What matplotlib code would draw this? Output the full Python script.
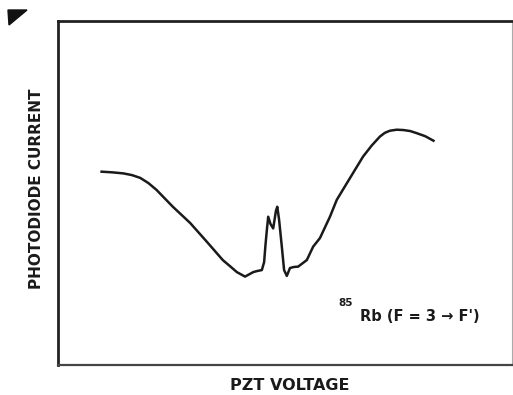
import matplotlib

matplotlib.use("Agg")
import matplotlib.pyplot as plt
from matplotlib.patches import Polygon

# PZT voltage (arb. units) vs photodiode current (arb. units)
pzt = [9.6, 12.0, 14.4, 16.3, 18.1, 19.9, 21.7, 25.3, 29.1, 32.8, 36.3, 38.0, 39.4, 41.2,
       43.0, 43.8, 44.9, 45.4, 45.7, 46.0, 46.3, 46.8, 47.4, 48.0, 48.3, 48.7, 49.3, 49.8,
       50.4, 51.1, 52.0, 52.9, 54.8, 56.2, 57.7, 59.9, 61.4, 63.6, 67.2, 69.1, 70.9, 72.0,
       73.1, 74.6, 76.1, 77.6, 79.0, 80.9, 82.7]
current = [56.2, 56.0, 55.7, 55.2, 54.4, 52.9, 50.9, 46.0, 41.3, 35.8, 30.5, 28.6, 27.0,
           25.7, 27.0, 27.3, 27.6, 29.9, 34.9, 39.2, 43.1, 41.0, 39.7, 44.8, 46.0, 42.2,
           34.4, 27.6, 25.9, 28.2, 28.5, 28.6, 30.5, 34.4, 36.9, 43.1, 48.0, 52.8, 60.6,
           63.8, 66.4, 67.5, 68.1, 68.4, 68.3, 68.0, 67.4, 66.5, 65.2]

XLABEL = "PZT VOLTAGE"
YLABEL = "PHOTODIODE CURRENT"
NOTE = "Rb (F = 3 \u2192 F')"
NOTE_SUP = "85"

plt.rcParams["font.family"] = ["DejaVu Sans"]

fig = plt.figure(figsize=(5.13, 3.95), dpi=100)
ax = fig.add_axes([58 / 513, 1 - 365 / 395, 454 / 513, 344 / 395])
ax.plot(pzt, current, color="#1a1a1a", lw=1.8, solid_joinstyle="round")
ax.set_xlim(0, 100)
ax.set_ylim(0, 100)
ax.set_xticks([])
ax.set_yticks([])

ax.spines["left"].set_linewidth(2.0)
ax.spines["left"].set_color("#222222")
ax.spines["top"].set_linewidth(2.0)
ax.spines["top"].set_color("#222222")
ax.spines["bottom"].set_linewidth(1.6)
ax.spines["bottom"].set_color("#444444")
ax.spines["right"].set_linewidth(0.8)
ax.spines["right"].set_color("#aaaaaa")

fig.text(290 / 513, 1 - 386 / 395, XLABEL, ha="center", va="center",
         fontsize=11.5, fontweight="bold", color="#1a1a1a")
fig.text(37 / 513, 1 - 189 / 395, YLABEL, ha="center", va="center", rotation=90,
         fontsize=11, fontweight="bold", color="#1a1a1a")

ax.text(0.665, 0.14, NOTE, transform=ax.transAxes, ha="left", va="center",
        fontsize=10.5, fontweight="bold", color="#1a1a1a")
ax.text(0.617, 0.18, NOTE_SUP, transform=ax.transAxes, ha="left", va="center",
        fontsize=7.5, fontweight="bold", color="#1a1a1a")

# corner mark at top left of the scanned page
fig.patches.append(Polygon([(8 / 513, 1 - 10 / 395), (27 / 513, 1 - 10 / 395),
                            (9 / 513, 1 - 25 / 395)], closed=True,
                           transform=fig.transFigure, color="#111111"))

fig.savefig("out.png", dpi=100)
